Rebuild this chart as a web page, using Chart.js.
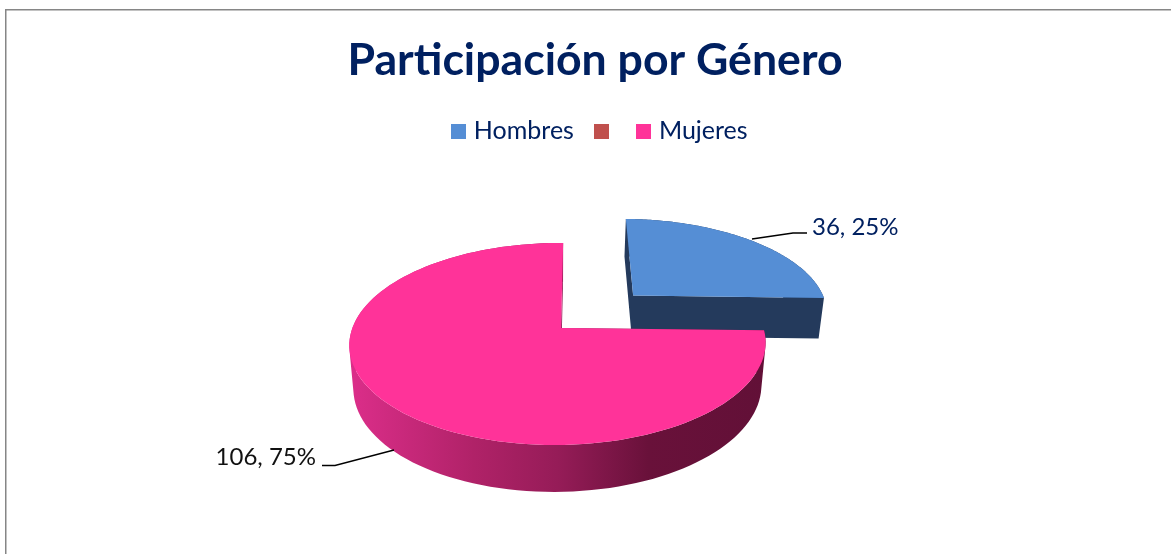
<!DOCTYPE html>
<html>
<head>
<meta charset="utf-8">
<title>Participación por Género</title>
<script src="https://cdn.jsdelivr.net/npm/chart.js@4"></script>
<style>
  html, body { margin: 0; padding: 0; background: #fff; overflow: hidden; }
  canvas { display: block; }
</style>
</head>
<body>
<canvas id="chartCanvas" width="1171" height="554"></canvas>
<script>
const categories = ['Hombres', '', 'Mujeres'];
const participantes = [36, 0, 106];
const colores = ['#558ed5', '#c0504d', '#ff3399'];

const NAVY = '#002060';

// tilted-disc projection, fitted to the reference
const view = { cx: 561, cy: 328, r: 205.5, k: 98.5, h: 0.158, g: 0.015, skew: -2.5, depth: 42.3, shrink: 0.02, vx: 557 };
const explode = [0.5, 0, 0];
const wallStops = [
  [[0, '#243a5c'], [1, '#243a5c']],
  [[0, '#8c3836'], [1, '#8c3836']],
  [[0, '#dc2e8a'], [0.3, '#b02268'], [0.5, '#961c58'], [0.72, '#69113a'], [1, '#621037']]
];
const labelLayout = [
  { x: 812, y: 235, align: 'left', color: NAVY, line: [[807, 233], [793, 233], [752, 239]] },
  null,
  { x: 316, y: 465, align: 'right', color: '#111', line: [[322, 465.5], [335, 465.5], [394, 450]] }
];

function project(u, v, z) {
  const den = 1 - view.h * v + view.g * u;
  let x = view.cx + (view.r * u + view.skew * v) / den;
  let y = view.cy + view.k * v / den;
  if (z) {
    x = view.vx + (x - view.vx) * (1 - view.shrink);
    y += view.depth / Math.pow(den, 0.6);
  }
  return [x, y];
}

// outline of one slice in disc coordinates: apex first, then the rim
function sliceOutline(arc, index) {
  const mid = (arc.startAngle + arc.endAngle) / 2;
  const du = explode[index] * Math.cos(mid) * 1.03;
  const dv = explode[index] * Math.sin(mid);
  const pts = [[du, dv]];
  const steps = 120;
  for (let i = 0; i <= steps; i++) {
    const a = arc.startAngle + (arc.endAngle - arc.startAngle) * i / steps;
    pts.push([du + Math.cos(a), dv + Math.sin(a)]);
  }
  return pts;
}

function tracePoly(ctx, pts) {
  pts.forEach((p, i) => i ? ctx.lineTo(p[0], p[1]) : ctx.moveTo(p[0], p[1]));
  ctx.closePath();
}

// same winding for every quad, so one nonzero fill gives a seamless union
function addQuad(ctx, a, b, c, d) {
  const quad = [a, b, c, d];
  let area = 0;
  quad.forEach((p, i) => {
    const q = quad[(i + 1) % 4];
    area += p[0] * q[1] - q[0] * p[1];
  });
  tracePoly(ctx, area < 0 ? quad.reverse() : quad);
}

const pie3d = {
  id: 'pie3d',
  afterLayout(chart) {
    // legend sits a little right of the title in the reference
    chart.legend.left += 7;
    chart.legend.right += 7;
  },
  beforeDraw(chart) {
    const ctx = chart.ctx;
    ctx.save();
    ctx.strokeStyle = '#868686';
    ctx.lineWidth = 1.5;
    ctx.beginPath();
    ctx.moveTo(5.75, 554);
    ctx.lineTo(5.75, 9.75);
    ctx.lineTo(1171, 9.75);
    ctx.stroke();
    ctx.restore();
  },
  beforeDatasetDraw(chart, args) {
    const ctx = chart.ctx;
    args.meta.data.forEach((arc, index) => {
      if (arc.endAngle - arc.startAngle <= 0) return;
      const outline = sliceOutline(arc, index);
      const upper = outline.map(p => project(p[0], p[1], 0));
      const lower = outline.map(p => project(p[0], p[1], 1));

      const grad = ctx.createLinearGradient(349, 0, 765, 0);
      wallStops[index].forEach(s => grad.addColorStop(s[0], s[1]));
      ctx.save();
      ctx.fillStyle = grad;
      ctx.beginPath();
      for (let i = 0; i < upper.length; i++) {
        const j = (i + 1) % upper.length;
        addQuad(ctx, upper[i], upper[j], lower[j], lower[i]);
      }
      ctx.fill();
      ctx.beginPath();
      tracePoly(ctx, upper);
      ctx.fillStyle = arc.options.backgroundColor;
      ctx.fill();
      ctx.restore();
    });
    return false;
  },
  afterDraw(chart) {
    const ctx = chart.ctx;
    const total = participantes.reduce((a, b) => a + b, 0);
    ctx.save();
    ctx.font = '24px Lato';
    ctx.textBaseline = 'alphabetic';
    participantes.forEach((value, index) => {
      const layout = labelLayout[index];
      if (!layout) return;
      ctx.strokeStyle = '#000';
      ctx.lineWidth = 1.3;
      ctx.beginPath();
      layout.line.forEach((p, i) => i ? ctx.lineTo(p[0], p[1]) : ctx.moveTo(p[0], p[1]));
      ctx.stroke();
      ctx.fillStyle = layout.color;
      ctx.textAlign = layout.align;
      ctx.fillText(value + ', ' + Math.round(value / total * 100) + '%', layout.x, layout.y);
    });
    ctx.restore();
  }
};

// 15px legend square, narrower layout box so the text sits close to it
function swatch(color) {
  const c = document.createElement('canvas');
  c.width = 15;
  c.height = 15;
  const g = c.getContext('2d');
  g.fillStyle = color;
  g.fillRect(0, 0, 15, 15);
  return c;
}

new Chart(document.getElementById('chartCanvas').getContext('2d'), {
  type: 'pie',
  data: {
    labels: categories,
    datasets: [{
      data: participantes,
      backgroundColor: colores,
      borderWidth: 0
    }]
  },
  options: {
    responsive: false,
    animation: false,
    layout: { padding: { left: 19, top: 34 } },
    plugins: {
      title: {
        display: true,
        text: 'Participación por Género',
        color: NAVY,
        font: { family: 'Lato', size: 44.6, weight: 'bold' },
        padding: { top: 0, bottom: 6 }
      },
      legend: {
        position: 'top',
        labels: {
          color: NAVY,
          font: { family: 'Lato', size: 25 },
          usePointStyle: true,
          pointStyleWidth: 5,
          padding: 25,
          generateLabels(chart) {
            const items = Chart.overrides.doughnut.plugins.legend.labels.generateLabels(chart);
            items.forEach(item => { item.pointStyle = swatch(item.fillStyle); item.hidden = false; });
            return items;
          }
        }
      },
      tooltip: { enabled: false }
    }
  },
  plugins: [pie3d]
});
</script>
</body>
</html>
